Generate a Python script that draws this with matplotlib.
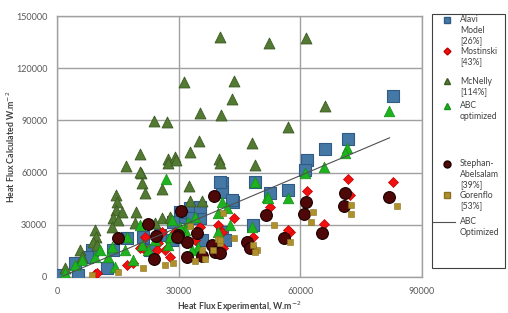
import matplotlib
matplotlib.use("Agg")
import matplotlib.pyplot as plt
import matplotlib.patches as patches
from matplotlib.lines import Line2D

plt.rcParams['font.family'] = ['Lato', 'DejaVu Sans']

# --- data (W/m2) ---
alavi_x = [82900, 71800, 66100, 61700, 61200, 57000, 52500, 48800, 48300, 40700, 40700,
           43400, 32800, 30800, 35300, 29800, 35800, 40700, 41400, 40200, 43200, 30300,
           33300, 28600, 25400, 21200, 17300, 13800, 8600, 7400, 4400, 5200, 1200, 12300,
           22900, 35300, 28400]
alavi_y = [104000, 79300, 73600, 67200, 61500, 50000, 48300, 54600, 29900, 54000, 48900,
           43100, 39700, 34500, 33900, 23000, 21300, 25900, 21300, 54600, 44200, 37400,
           33900, 31600, 24100, 23000, 22400, 15500, 15500, 11500, 8000, 1100, 1100, 5200,
           15500, 40200, 21300]

most_x = [71800, 82900, 61700, 72300, 65800, 57500, 52500, 57000, 48300, 43600, 39700,
          35300, 40700, 40900, 34000, 20500, 18700, 17300, 26600, 24900, 25900, 9400,
          21700, 27900, 29100, 24700, 9900, 21200]
most_y = [56300, 54600, 49400, 47100, 30500, 25900, 40200, 27000, 23000, 33900, 29900,
          28700, 25900, 16700, 21300, 16700, 8000, 6900, 15500, 19500, 25900, 1700,
          23000, 11500, 25900, 15500, 2300, 16700]

mcn_x = [40200, 52300, 61500, 31300, 43600, 43200, 35300, 40400, 23900, 27100, 57000,
         35000, 48100, 20500, 32800, 27400, 29100, 40000, 66100, 17000, 20700, 27400,
         29300, 21000, 21700, 25900, 14500, 14800, 14500, 16000, 19500, 13800, 15000,
         9400, 9600, 8900, 9900, 5700, 6200, 2000, 13600, 19200, 25900, 27900, 24200,
         40200, 48800, 32600, 32800, 35800, 20500]
mcn_y = [137900, 134500, 137600, 112000, 112600, 102300, 94300, 93100, 89700, 89100, 86200,
         78200, 77000, 70700, 71800, 67800, 69000, 67800, 98300, 63800, 59800, 65500,
         67200, 54000, 48300, 50600, 47100, 43100, 38500, 37400, 37400, 33900, 32800,
         27000, 23000, 20100, 18400, 15500, 11500, 5200, 28700, 31000, 33900, 34500, 31000,
         65500, 64400, 52300, 43700, 43700, 60300]

abc_x = [81900, 71500, 71000, 65800, 61200, 57000, 51800, 48800, 52000, 40700, 41900,
         39700, 48100, 42700, 39700, 34000, 32300, 31600, 34800, 33300, 26900, 20500,
         17300, 13600, 12600, 9400, 6200, 4400, 2000, 18700, 14300, 22400, 24200, 21000,
         27400, 27900, 30300, 28400, 16800, 10600]
abc_y = [95400, 74100, 71300, 63200, 59800, 45400, 46000, 54600, 45400, 43100, 39700,
         36800, 28700, 29900, 25900, 34500, 31600, 27000, 17200, 15500, 56300, 29900,
         23000, 17200, 11500, 11500, 9800, 6900, 2300, 9800, 5700, 15500, 21300, 18400,
         18400, 23000, 28700, 32800, 15500, 15500]

steph_x = [81900, 71000, 70800, 61400, 60900, 65300, 51500, 56000, 38700, 30600, 34500,
           32100, 29800, 38200, 39000, 32100, 46900, 47600, 15000, 22400, 24400, 29600,
           23900, 35800, 40200]
steph_y = [46000, 48300, 40800, 43100, 36200, 25300, 35600, 22400, 46600, 37900, 25300,
           20100, 24100, 18400, 14400, 11500, 20100, 16700, 22400, 30500, 23600, 23000,
           10300, 12100, 13800]

gor_x = [83800, 72500, 72500, 63100, 62600, 57500, 53500, 49300, 48300, 40900, 43600,
         39700, 40200, 35800, 36500, 34000, 48800, 32800, 26600, 28600, 21200, 15000,
         8600, 38500, 40200]
gor_y = [40800, 41400, 36200, 37400, 31600, 20100, 29900, 15500, 18400, 36800, 22400,
         21800, 19500, 15500, 10300, 9200, 14400, 29300, 6900, 8000, 5200, 2900,
         1100, 15500, 21300]

fit_x = [1500, 82000]
fit_y = [600, 80000]

fig = plt.figure(figsize=(5.08, 3.13), dpi=100)
ax = fig.add_axes([57 / 508, 1 - 277 / 313, 365 / 508, 261 / 313])

ax.scatter(alavi_x, alavi_y, marker='s', s=68, c='#4678a6', edgecolors='#2f5b85', linewidths=0.8, zorder=3)
ax.scatter(most_x, most_y, marker='D', s=26, c='#f01010', edgecolors='#c00000', linewidths=0.5, zorder=4)
ax.scatter(mcn_x, mcn_y, marker='^', s=62, c='#527a32', edgecolors='#3b5a22', linewidths=0.6, zorder=3)
ax.scatter(abc_x, abc_y, marker='^', s=58, c='#1fb21f', edgecolors='#138f13', linewidths=0.5, zorder=4)
ax.scatter(steph_x, steph_y, marker='o', s=72, c='#4e0808', edgecolors='#1a0000', linewidths=0.8, zorder=5)
ax.scatter(gor_x, gor_y, marker='s', s=20, c='#b0902a', edgecolors='#8a7020', linewidths=0.4, zorder=6)
ax.plot(fit_x, fit_y, color='#505050', lw=0.8, zorder=7)

ax.set_xlim(0, 90000)
ax.set_ylim(0, 150000)
ax.set_xticks([0, 30000, 60000, 90000])
ax.set_yticks([0, 30000, 60000, 90000, 120000, 150000])
ax.grid(True, color='#a0a0a0', lw=1)
ax.set_axisbelow(True)
for sp in ax.spines.values():
    sp.set_color('#a0a0a0')
    sp.set_linewidth(1)
ax.tick_params(length=0, labelsize=6.5, colors='#595959', pad=7)

ax.set_xlabel('Heat Flux Experimental, W.m$^{-2}$', fontsize=6.3, fontweight='bold', color='#404040', labelpad=3)
ax.set_ylabel('Heat Flux Calculated W.m$^{-2}$', fontsize=6.3, fontweight='bold', color='#404040')
ax.yaxis.set_label_coords(-0.11, 0.5)

# legend drawn in pixel coordinates on an overlay axes
lax = fig.add_axes([0, 0, 1, 1])
lax.set_xlim(0, 508)
lax.set_ylim(313, 0)
lax.axis('off')
lax.add_patch(patches.Rectangle((432, 14), 73, 254, fill=False, edgecolor='#404040', lw=0.8))

entries = [
    (dict(marker='s', ms=5, mfc='#4678a6', mec='#2f5b85'), 20, ['Alavi', 'Model', '[26%]']),
    (dict(marker='D', ms=3.5, mfc='#f01010', mec='#c00000'), 51, ['Mostinski', '[43%]']),
    (dict(marker='^', ms=5, mfc='#527a32', mec='#3b5a22'), 81, ['McNelly', '[114%]']),
    (dict(marker='^', ms=5, mfc='#1fb21f', mec='#138f13'), 106, ['ABC', 'optimized']),
    (dict(marker='o', ms=5, mfc='#4e0808', mec='#1a0000'), 164, ['Stephan-', 'Abelsalam', '[39%]']),
    (dict(marker='s', ms=4, mfc='#b0902a', mec='#8a7020'), 195, ['Gorenflo', '[53%]']),
]
for style, y0, lines in entries:
    lax.add_line(Line2D([447], [y0], ls='none', **style))
    for i, t in enumerate(lines):
        lax.text(460, y0 + i * 10.3, t, fontsize=6.2, color='#404040', va='center', ha='left')
lax.add_line(Line2D([433, 455], [222, 222], color='#505050', lw=0.8))
lax.text(460, 222, 'ABC', fontsize=6.2, color='#404040', va='center', ha='left')
lax.text(460, 232.3, 'Optimized', fontsize=6.2, color='#404040', va='center', ha='left')

fig.savefig('out.png', dpi=100)
